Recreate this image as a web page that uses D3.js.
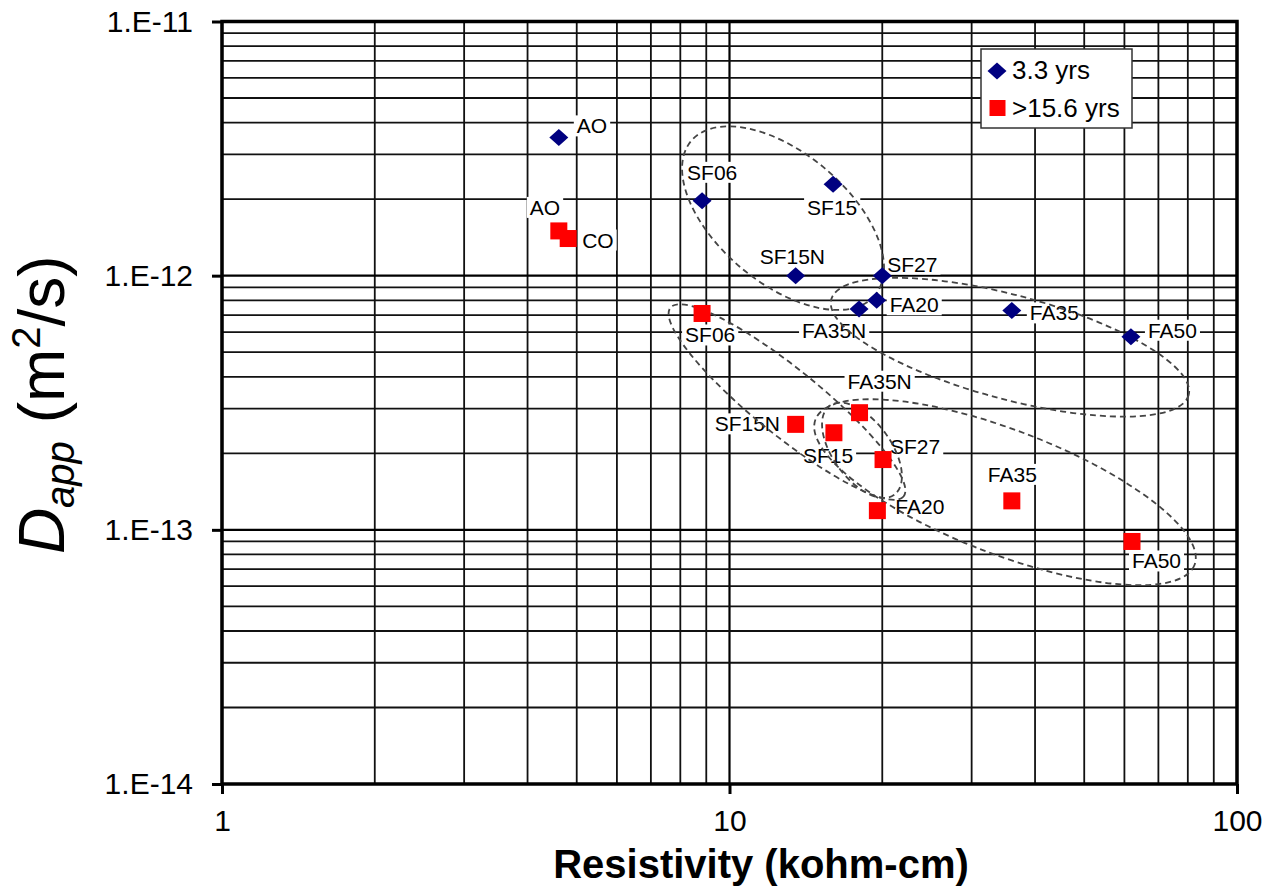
<!DOCTYPE html>
<html>
<head>
<meta charset="utf-8">
<script src="https://cdn.jsdelivr.net/npm/d3@7"></script>
<style>
  html, body { margin: 0; padding: 0; background: #fff; }
  svg text { font-family: "Liberation Sans", Arial, sans-serif; }
</style>
</head>
<body>
<svg id="chart" width="1268" height="887"></svg>
<script>
// Apparent chloride diffusion coefficient vs. surface resistivity
const samplesShort = ["AO", "SF06", "SF15", "SF15N", "SF27", "FA20", "FA35N", "FA35", "FA50"];
const resistShort  = [4.61, 8.83, 16.0, 13.5, 20.0, 19.5, 18.0, 36.0, 61.8];
const dappShort    = [3.5e-12, 1.97e-12, 2.29e-12, 1.0e-12, 1.0e-12, 8.0e-13, 7.4e-13, 7.3e-13, 5.75e-13];

const samplesLong = ["AO", "CO", "SF06", "SF15N", "SF15", "FA35N", "SF27", "FA20", "FA35", "FA50"];
const resistLong  = [4.61, 4.81, 8.83, 13.5, 16.06, 18.04, 20.07, 19.56, 36.0, 62.1];
const dappLong    = [1.5e-12, 1.4e-12, 7.1e-13, 2.6e-13, 2.41e-13, 2.89e-13, 1.89e-13, 1.19e-13, 1.3e-13, 9.0e-14];

const seriesNames = ["3.3 yrs", ">15.6 yrs"];
const xTickValues = [1, 10, 100];
const xTickLabels = ["1", "10", "100"];
const yTickValues = [1e-14, 1e-13, 1e-12, 1e-11];
const yTickLabels = ["1.E-14", "1.E-13", "1.E-12", "1.E-11"];

// label placement (offset of text start / baseline from the marker)
const labelOffsetShort = {
  AO: [18, -4], SF06: [-15, -21], SF15: [-26, 31], SF15N: [-36, -12], SF27: [5, -4],
  FA20: [13, 12], FA35N: [-57, 29], FA35: [18, 10], FA50: [17, 1]
};
const labelOffsetLong = {
  AO: [-29, -16], CO: [14, 9], SF06: [-17, 29], SF15N: [-81, 7], SF15: [-31, 30],
  FA35N: [-12, -24], SF27: [7, -6], FA20: [18, 3], FA35: [-24, -19], FA50: [0, 27]
};

// dashed group outlines: centre in data units, semi-axes in px, tilt in degrees
const outlines = [
  { cx: 12.75, cy: 1.684e-12, rx: 120, ry: 65, tilt: 40 },
  { cx: 35.7,  cy: 5.23e-13,  rx: 185, ry: 52, tilt: 15 },
  { cx: 12.98, cy: 3.18e-13,  rx: 150, ry: 33, tilt: 39 },
  { cx: 34.9,  cy: 1.406e-13, rx: 203, ry: 62, tilt: 21 },
  { cx: 18.24, cy: 2.056e-13, rx: 55,  ry: 29, tilt: 54 }
];

const W = 1268, H = 887;
const margin = { left: 222, right: 31, top: 21.5, bottom: 103 };
const svg = d3.select("#chart");

const x = d3.scaleLog().domain([1, 100]).range([margin.left, W - margin.right]);
const y = d3.scaleLog().domain([1e-14, 1e-11]).range([H - margin.bottom, margin.top]);

const [x0, x1] = x.range();
const [y1, y0] = y.range();

// grid
const xGrid = [];
for (let d = 1; d < 100; d *= 10) for (let k = 1; k <= 9; k++) xGrid.push(d * k);
xGrid.push(100);
const yGrid = [];
for (let d = 1e-14; d < 1e-11 * 0.99; d *= 10) for (let k = 1; k <= 9; k++) yGrid.push(d * k);
yGrid.push(1e-11);
const isMajor = v => Math.abs(Math.log10(v) - Math.round(Math.log10(v))) < 1e-6;

const grid = svg.append("g");
grid.selectAll("line.gx").data(xGrid).join("line")
  .attr("x1", d => x(d)).attr("x2", d => x(d))
  .attr("y1", y0).attr("y2", y1)
  .attr("stroke", d => isMajor(d) ? "#000" : "#111")
  .attr("stroke-width", d => isMajor(d) ? 2.2 : 1.8);
grid.selectAll("line.gy").data(yGrid).join("line")
  .attr("y1", d => y(d)).attr("y2", d => y(d))
  .attr("x1", x0).attr("x2", x1)
  .attr("stroke", d => isMajor(d) ? "#000" : "#111")
  .attr("stroke-width", d => isMajor(d) ? 2.2 : 1.8);

// axes
const xAxis = d3.axisBottom(x).tickValues(xTickValues)
  .tickFormat((d, i) => xTickLabels[i]).tickSize(10).tickPadding(16);
const yAxis = d3.axisLeft(y).tickValues(yTickValues)
  .tickFormat((d, i) => yTickLabels[i]).tickSize(10).tickPadding(19);

const gx = svg.append("g").attr("transform", `translate(0,${y1})`).call(xAxis);
const gy = svg.append("g").attr("transform", `translate(${x0},0)`).call(yAxis);
[gx, gy].forEach(g => {
  g.select(".domain").remove();
  g.selectAll(".tick line").attr("stroke", "#000").attr("stroke-width", 3);
  g.selectAll(".tick text").attr("font-size", 30).attr("fill", "#000")
    .attr("font-family", "'Liberation Sans', Arial, sans-serif");
});

// plot frame
svg.append("rect")
  .attr("x", x0).attr("y", y0).attr("width", x1 - x0).attr("height", y1 - y0)
  .attr("fill", "none").attr("stroke", "#000").attr("stroke-width", 3.5);

// axis titles
svg.append("text")
  .attr("x", 761).attr("y", 878)
  .attr("text-anchor", "middle").attr("font-size", 40).attr("font-weight", "bold")
  .text("Resistivity (kohm-cm)");

const yt = svg.append("text")
  .attr("transform", `translate(64,${(y0 + y1) / 2 + 2}) rotate(-90)`)
  .attr("text-anchor", "middle").attr("font-size", 64);
yt.append("tspan").attr("font-style", "italic").text("D");
yt.append("tspan").attr("font-style", "italic").attr("font-size", 40).attr("dy", 10).text("app");
yt.append("tspan").attr("dy", -10).text(" (m");
yt.append("tspan").attr("font-size", 40).attr("dy", -24).text("2");
yt.append("tspan").attr("dy", 24).text("/s)");

// data labels with white boxes
const labelLayer = svg.append("g");
function addLabels(names, xs, ys, offsets) {
  names.forEach((n, i) => {
    const px = x(xs[i]), py = y(ys[i]);
    const [dx, dy] = offsets[n];
    const g = labelLayer.append("g");
    const t = g.append("text").attr("x", px + dx).attr("y", py + dy)
      .attr("font-size", 21).attr("fill", "#000").text(n);
    const bb = t.node().getBBox();
    g.insert("rect", "text")
      .attr("x", bb.x - 3).attr("y", bb.y + 1).attr("width", bb.width + 6).attr("height", bb.height - 2)
      .attr("fill", "#fff");
  });
}
addLabels(samplesShort, resistShort, dappShort, labelOffsetShort);
addLabels(samplesLong, resistLong, dappLong, labelOffsetLong);

// dashed outlines
svg.append("g").selectAll("ellipse").data(outlines).join("ellipse")
  .attr("transform", d => `translate(${x(d.cx)},${y(d.cy)}) rotate(${d.tilt})`)
  .attr("rx", d => d.rx).attr("ry", d => d.ry)
  .attr("fill", "none").attr("stroke", "#444").attr("stroke-width", 1.8)
  .attr("stroke-dasharray", "6,4");

// markers
const diamond = (cx, cy) => `M${cx},${cy - 8.5}L${cx + 9.5},${cy}L${cx},${cy + 8.5}L${cx - 9.5},${cy}Z`;
svg.append("g").selectAll("path").data(resistShort).join("path")
  .attr("d", (d, i) => diamond(x(d), y(dappShort[i])))
  .attr("fill", "#000080");
svg.append("g").selectAll("rect").data(resistLong).join("rect")
  .attr("x", d => x(d) - 8.5).attr("y", (d, i) => y(dappLong[i]) - 8.5)
  .attr("width", 17).attr("height", 17).attr("fill", "#ff0000");

// legend
const lg = svg.append("g");
lg.append("rect").attr("x", 981).attr("y", 49).attr("width", 151).attr("height", 79)
  .attr("fill", "#fff").attr("stroke", "#333").attr("stroke-width", 1.5);
lg.append("path").attr("d", diamond(997, 71)).attr("fill", "#000080");
lg.append("rect").attr("x", 989.5).attr("y", 100).attr("width", 16).attr("height", 16).attr("fill", "#ff0000");
lg.append("text").attr("x", 1012).attr("y", 79).attr("font-size", 26).text(seriesNames[0]);
lg.append("text").attr("x", 1012).attr("y", 117).attr("font-size", 26).text(seriesNames[1]);
</script>
</body>
</html>
